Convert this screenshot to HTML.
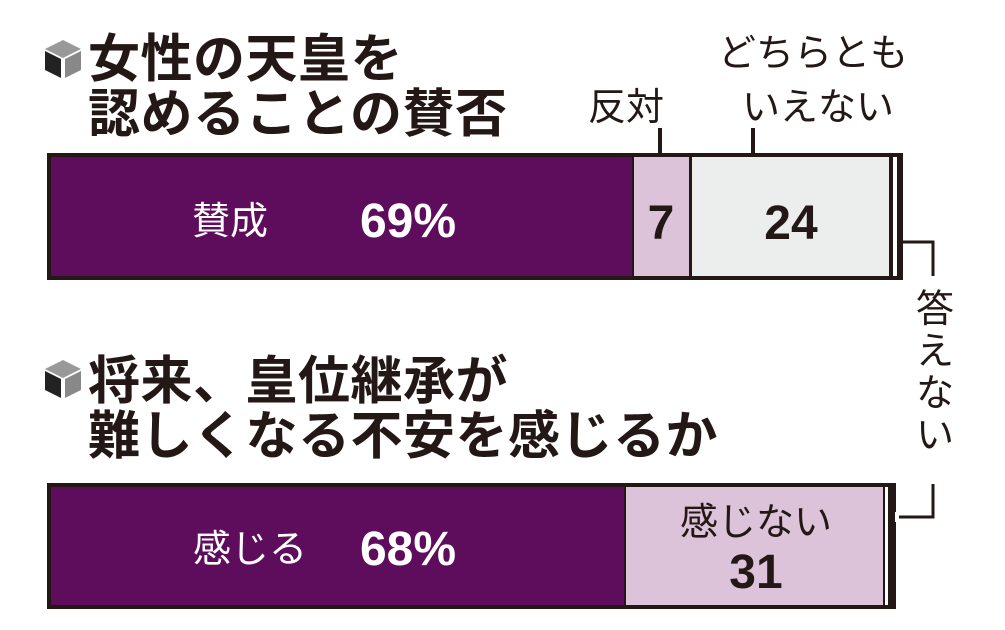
<!DOCTYPE html>
<html><head><meta charset="utf-8"><style>
html,body{margin:0;padding:0;background:#fff;}
svg{display:block;}
text{font-family:"Liberation Sans","Noto Sans CJK JP",sans-serif;}
</style></head><body>
<svg width="1005" height="630" viewBox="0 0 1005 630" xmlns="http://www.w3.org/2000/svg">
<rect width="1005" height="630" fill="#fff"/>
<g transform="translate(45,40)">
<polygon points="18,0 36,9 18,18 0,9" fill="#999"/>
<polygon points="0,11 16,19 16,38 0,30" fill="#222"/>
<polygon points="20,19 36,11 36,30 20,38" fill="#888"/>
</g>
<g transform="translate(45,360)">
<polygon points="18,0 36,9 18,18 0,9" fill="#999"/>
<polygon points="0,11 16,19 16,38 0,30" fill="#222"/>
<polygon points="20,19 36,11 36,30 20,38" fill="#888"/>
</g>
<g fill="#231815" font-weight="bold" font-size="52" letter-spacing="0.5">
<text x="88" y="77">女性の天皇を</text>
<text x="88" y="132">認めることの賛否</text>
<text x="88" y="399">将来、皇位継承が</text>
<text x="88" y="454">難しくなる不安を感じるか</text>
</g>
<g fill="#231815" font-size="38">
<text x="588" y="120">反対</text>
<text x="718" y="66">どちらとも</text>
<text x="742" y="120">いえない</text>
</g>
<line x1="660" y1="128" x2="660" y2="155" stroke="#231815" stroke-width="4"/>
<line x1="753" y1="128" x2="753" y2="155" stroke="#231815" stroke-width="4"/>
<rect x="47" y="153" width="856" height="127" fill="#231815"/>
<rect x="51" y="157" width="581" height="119" fill="#5e0c5c"/>
<rect x="634" y="157" width="55" height="119" fill="#dcc3d9"/>
<rect x="692" y="157" width="197" height="119" fill="#eceded"/>
<rect x="893" y="157" width="4" height="119" fill="#fff"/>
<text x="230" y="234" font-size="38" fill="#fff" text-anchor="middle">賛成</text>
<text x="408" y="237" font-size="48" font-weight="bold" fill="#fff" text-anchor="middle">69%</text>
<text x="661" y="239" font-size="48" font-weight="bold" fill="#231815" text-anchor="middle">7</text>
<text x="791" y="239" font-size="48" font-weight="bold" fill="#231815" text-anchor="middle">24</text>
<rect x="47" y="483" width="849" height="126" fill="#231815"/>
<rect x="51" y="487" width="573" height="118" fill="#5e0c5c"/>
<rect x="626" y="487" width="257" height="118" fill="#dcc3d9"/>
<rect x="885" y="487" width="3" height="118" fill="#fff"/>
<text x="250" y="562" font-size="38" fill="#fff" text-anchor="middle">感じる</text>
<text x="408" y="565" font-size="48" font-weight="bold" fill="#fff" text-anchor="middle">68%</text>
<text x="756" y="535" font-size="38" fill="#231815" text-anchor="middle">感じない</text>
<text x="756" y="588" font-size="48" font-weight="bold" fill="#231815" text-anchor="middle">31</text>
<polyline points="899,242 933,242 933,276" fill="none" stroke="#231815" stroke-width="3"/>
<polyline points="933,484 933,517 890,517" fill="none" stroke="#231815" stroke-width="3"/>
<rect x="895" y="512" width="4" height="10" fill="#fff"/>
<g fill="#231815" font-size="38" text-anchor="middle">
<text x="935" y="322">答</text>
<text x="935" y="364">え</text>
<text x="935" y="406">な</text>
<text x="935" y="448">い</text>
</g>
</svg>
</body></html>
